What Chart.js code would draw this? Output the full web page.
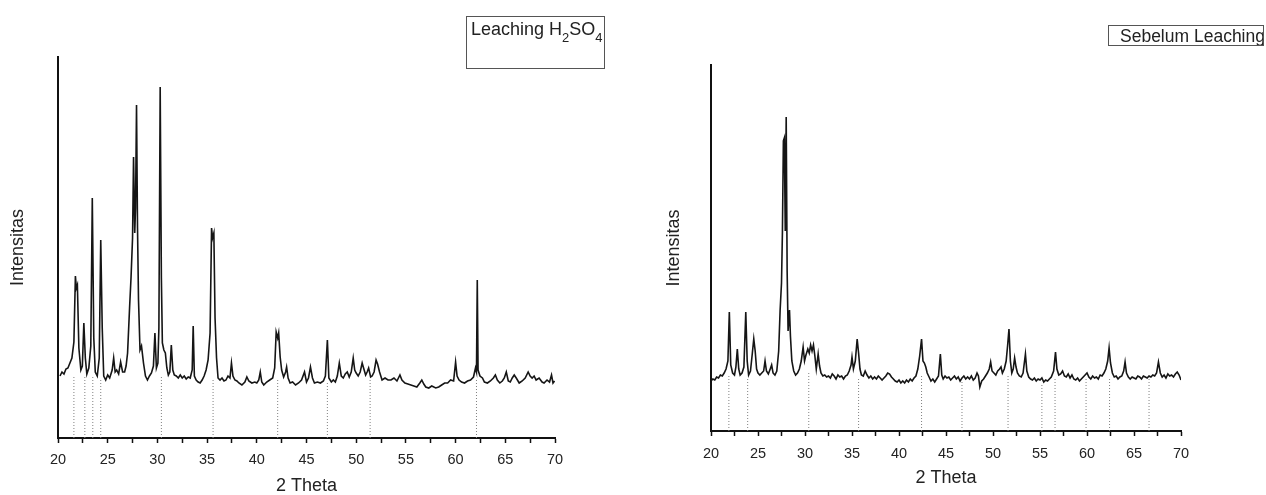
<!DOCTYPE html>
<html>
<head>
<meta charset="utf-8">
<script src="https://cdn.jsdelivr.net/npm/chart.js@4.4.1/dist/chart.umd.min.js"></script>
<style>
  body { margin: 0; background: #fff; font-family: "Liberation Sans", Arial, sans-serif; }
  #wrap { position: relative; width: 1266px; height: 495px; overflow: hidden; }
  canvas { position: absolute; top: 0; }
  .leg { position: absolute; box-sizing: border-box; border: 1.5px solid #555; color: #222; white-space: nowrap; overflow: hidden; line-height: 1.15; }
  .leg sub { font-size: 0.72em; vertical-align: -0.55em; line-height: 0; }
</style>
</head>
<body>
<div id="wrap">
  <canvas id="leachChart" width="620" height="495" style="left:0"></canvas>
  <canvas id="rawChart" width="626" height="495" style="left:640px"></canvas>
  <div class="leg" style="left:466px;top:16px;width:139px;height:53px;font-size:18px;padding:2px 0 0 4px;">Leaching H<sub>2</sub>SO<sub>4</sub></div>
  <div class="leg" style="left:1108px;top:25px;width:156px;height:21px;font-size:17.5px;padding:0 0 0 11px;">Sebelum Leaching</div>
</div>
<script>
const leachTheta = [20.2,20.4,20.6,20.8,21.0,21.2,21.4,21.6,21.75,21.85,21.95,22.1,22.3,22.45,22.6,22.75,22.9,23.1,23.3,23.45,23.6,23.75,23.95,24.15,24.3,24.45,24.6,24.8,25.0,25.2,25.45,25.6,25.75,25.9,26.1,26.3,26.5,26.7,26.85,27.0,27.2,27.35,27.5,27.6,27.72,27.8,27.9,28.0,28.1,28.25,28.4,28.6,28.8,29.0,29.2,29.4,29.6,29.75,29.9,30.05,30.15,30.28,30.4,30.5,30.65,30.8,30.95,31.1,31.25,31.4,31.55,31.7,31.9,32.1,32.3,32.5,32.7,32.9,33.1,33.3,33.5,33.6,33.72,33.9,34.1,34.3,34.5,34.7,34.9,35.1,35.3,35.45,35.55,35.68,35.8,35.95,36.1,36.3,36.5,36.7,36.9,37.1,37.3,37.45,37.6,37.8,38.0,38.2,38.5,38.8,39.0,39.2,39.5,39.8,40.0,40.2,40.35,40.5,40.7,41.0,41.3,41.6,41.8,41.95,42.1,42.2,42.35,42.5,42.7,42.9,43.0,43.15,43.35,43.6,43.9,44.2,44.5,44.8,45.0,45.2,45.4,45.6,45.8,46.1,46.4,46.7,46.9,47.1,47.25,47.5,47.7,47.9,48.1,48.3,48.5,48.7,48.9,49.1,49.3,49.5,49.7,49.85,50.0,50.2,50.4,50.6,50.8,50.95,51.1,51.25,51.45,51.6,51.8,52.0,52.15,52.35,52.6,52.9,53.2,53.5,53.8,54.1,54.4,54.6,54.9,55.2,55.5,55.8,56.1,56.4,56.6,56.8,57.0,57.3,57.6,58.0,58.3,58.6,58.9,59.2,59.5,59.8,60.0,60.15,60.35,60.6,60.9,61.2,61.5,61.8,62.0,62.1,62.18,62.26,62.45,62.7,62.9,63.2,63.5,63.8,64.0,64.2,64.45,64.7,64.9,65.1,65.3,65.5,65.7,65.9,66.1,66.4,66.7,67.0,67.3,67.5,67.7,67.9,68.1,68.4,68.7,68.9,69.2,69.45,69.65,69.8,69.95];
const leachIntensity = [62,66,64,69,70,75,80,96,162,150,153,90,68,72,115,80,64,70,92,240,100,66,62,80,198,110,62,58,63,60,68,80,66,68,64,76,66,66,72,85,130,161,200,281,205,230,333,210,138,88,92,75,62,58,62,65,72,105,70,75,110,351,160,95,88,85,70,63,66,93,68,63,62,60,63,60,62,59,61,60,68,112,62,58,56,55,58,62,68,78,105,210,200,205,120,80,60,58,60,57,58,62,60,75,62,58,57,55,53,56,61,57,55,56,55,58,66,56,53,56,58,60,70,106,100,105,81,68,61,66,71,60,55,56,53,55,58,66,56,60,71,60,55,56,55,57,62,98,60,56,58,56,62,75,62,60,64,66,61,66,80,68,65,62,66,75,68,63,66,70,61,62,66,78,74,66,58,60,58,58,60,57,63,58,55,54,53,52,51,55,58,54,51,50,52,50,51,53,55,55,58,57,76,62,58,56,55,57,58,61,70,66,158,68,62,60,56,55,57,60,63,58,55,57,60,66,57,56,60,63,60,55,57,60,66,62,60,62,58,60,56,55,58,56,63,55,57];
const leachMarkers = [21.6,22.7,23.5,24.3,30.4,35.6,42.1,47.1,51.4,62.1];
const leachMarkerTop = [62,63,62,58,62,58,60,55,60,60];

const rawTheta = [20.0,20.2,20.4,20.6,20.8,21.0,21.2,21.4,21.6,21.8,21.95,22.1,22.3,22.5,22.65,22.8,22.95,23.1,23.3,23.5,23.7,23.85,24.0,24.2,24.4,24.55,24.7,24.85,25.0,25.2,25.4,25.6,25.75,25.9,26.1,26.3,26.45,26.6,26.8,27.0,27.2,27.35,27.5,27.6,27.7,27.8,27.9,28.0,28.1,28.2,28.35,28.45,28.6,28.8,29.0,29.2,29.4,29.6,29.8,29.95,30.1,30.3,30.45,30.6,30.75,30.9,31.05,31.2,31.4,31.55,31.7,31.9,32.1,32.3,32.5,32.7,32.9,33.1,33.3,33.5,33.7,33.9,34.1,34.3,34.5,34.7,34.9,35.0,35.15,35.35,35.55,35.7,35.85,36.0,36.2,36.4,36.6,36.8,37.0,37.2,37.4,37.6,37.8,38.0,38.2,38.4,38.6,38.8,39.0,39.2,39.4,39.6,39.8,40.0,40.2,40.4,40.6,40.8,41.0,41.2,41.4,41.6,41.8,42.0,42.2,42.4,42.55,42.7,42.85,43.0,43.2,43.4,43.6,43.8,44.0,44.2,44.4,44.55,44.7,44.9,45.1,45.3,45.5,45.7,45.9,46.1,46.3,46.5,46.7,46.9,47.1,47.3,47.5,47.7,47.9,48.1,48.3,48.45,48.6,48.8,49.0,49.2,49.4,49.6,49.75,49.9,50.1,50.3,50.5,50.7,50.85,51.0,51.2,51.4,51.55,51.7,51.85,52.0,52.15,52.3,52.45,52.6,52.8,53.0,53.2,53.45,53.6,53.8,54.0,54.2,54.4,54.6,54.8,55.0,55.2,55.4,55.6,55.8,56.0,56.2,56.45,56.65,56.8,57.0,57.2,57.4,57.6,57.8,58.0,58.2,58.4,58.6,58.8,59.0,59.2,59.4,59.6,59.8,60.0,60.2,60.4,60.6,60.8,61.0,61.2,61.4,61.6,61.8,62.0,62.2,62.35,62.5,62.7,62.9,63.1,63.3,63.5,63.7,63.9,64.05,64.2,64.4,64.6,64.8,65.0,65.2,65.4,65.6,65.8,66.0,66.2,66.4,66.6,66.8,67.0,67.2,67.4,67.6,67.8,68.0,68.2,68.4,68.6,68.8,69.0,69.2,69.4,69.6,69.8,70.0];
const rawIntensity = [50,52,51,54,53,56,55,58,62,70,119,66,58,56,64,82,62,56,58,64,119,70,56,60,78,92,80,62,58,56,58,60,70,60,57,62,66,58,56,60,80,120,148,200,290,293,200,314,160,100,121,95,70,60,56,58,62,70,84,70,76,82,78,86,80,86,75,62,77,65,58,55,56,54,55,53,57,55,52,56,54,55,52,55,56,60,66,74,62,70,92,78,62,56,55,60,56,53,55,52,54,52,55,53,51,53,55,58,57,54,52,50,49,51,48,50,48,51,49,52,50,53,55,62,75,92,70,68,64,58,54,50,52,49,52,55,77,56,52,55,53,54,51,53,55,52,54,50,53,55,52,54,52,55,51,53,58,55,44,50,52,55,58,62,69,60,58,56,60,62,64,58,62,70,85,102,70,58,62,73,64,58,55,54,58,77,60,54,52,51,53,50,52,51,53,49,51,50,52,54,60,79,62,56,57,60,55,54,57,53,56,52,51,53,50,52,54,56,58,54,52,55,53,54,52,56,55,58,62,70,83,68,58,54,55,52,54,55,60,69,58,54,52,54,53,52,55,54,52,55,54,53,55,54,56,55,58,69,58,54,56,53,57,55,56,54,57,59,56,51];
const rawMarkers = [21.9,23.9,30.4,35.7,42.4,46.7,51.6,55.2,56.6,59.9,62.4,66.6];
const rawMarkerTop = [56,54,58,52,55,50,56,48,52,52,52,52];

const xTicks = [20, 25, 30, 35, 40, 45, 50, 55, 60, 65, 70];

const fontFamily = '"Liberation Sans", Arial, sans-serif';

function markerLines(pos, tops) {
    // cada linha pontilhada vai do eixo até o topo lido; null separa as linhas
    const pts = [];
    pos.forEach((p, i) => {
        pts.push({ x: p, y: 0 }, { x: p, y: tops[i] }, { x: p, y: null });
    });
    return pts;
}

function drawXrd(id, theta, intensity, markers, markerTop, yMax, box) {
    const ctx = document.getElementById(id).getContext('2d');
    return new Chart(ctx, {
        type: 'line',
        data: {
            datasets: [
                {
                    data: theta.map((t, i) => ({ x: t, y: intensity[i] })),
                    borderColor: '#151515',
                    borderWidth: 1.6,
                    pointRadius: 0,
                    tension: 0
                },
                {
                    data: markerLines(markers, markerTop),
                    borderColor: '#808080',
                    borderWidth: 1,
                    borderDash: [1, 2],
                    pointRadius: 0,
                    spanGaps: false
                }
            ]
        },
        options: {
            responsive: false,
            animation: false,
            layout: { padding: { left: box.padLeft, right: box.padRight, top: box.padTop, bottom: 0 } },
            plugins: { legend: { display: false }, tooltip: { enabled: false } },
            scales: {
                x: {
                    type: 'linear',
                    min: 20,
                    max: 70,
                    afterFit: s => { s.height = box.xHeight; },
                    afterBuildTicks: s => {
                        const t = [];
                        for (let v = 20; v <= 70; v += 2.5) t.push({ value: v });
                        s.ticks = t;
                    },
                    ticks: {
                        autoSkip: false,
                        maxRotation: 0,
                        padding: box.tickPad,
                        color: '#222',
                        font: { size: 14.5, family: fontFamily },
                        callback: v => (xTicks.includes(v) ? v : '')
                    },
                    grid: { drawOnChartArea: false, tickLength: 5, tickColor: '#111', tickWidth: 1.5 },
                    border: { color: '#111', width: 2 },
                    title: {
                        display: true,
                        text: '2 Theta',
                        color: '#222',
                        font: { size: 18, family: fontFamily },
                        padding: { top: 0, bottom: box.titleBottom }
                    }
                },
                y: {
                    min: 0,
                    max: yMax,
                    afterFit: s => { s.width = box.yWidth; },
                    ticks: { display: false },
                    grid: { display: false },
                    border: { color: '#111', width: 2 },
                    title: {
                        display: true,
                        text: 'Intensitas',
                        color: '#222',
                        font: { size: 18, family: fontFamily },
                        padding: { top: 4, bottom: 0 }
                    }
                }
            }
        }
    });
}

drawXrd('leachChart', leachTheta, leachIntensity, leachMarkers, leachMarkerTop, 381,
    { padLeft: 3, padRight: 65, padTop: 57, xHeight: 57, yWidth: 55, titleBottom: -2, tickPad: 8 });
drawXrd('rawChart', rawTheta, rawIntensity, rawMarkers, rawMarkerTop, 366,
    { padLeft: 19, padRight: 85, padTop: 65, xHeight: 64, yWidth: 52, titleBottom: 6, tickPad: 9 });
</script>
</body>
</html>
